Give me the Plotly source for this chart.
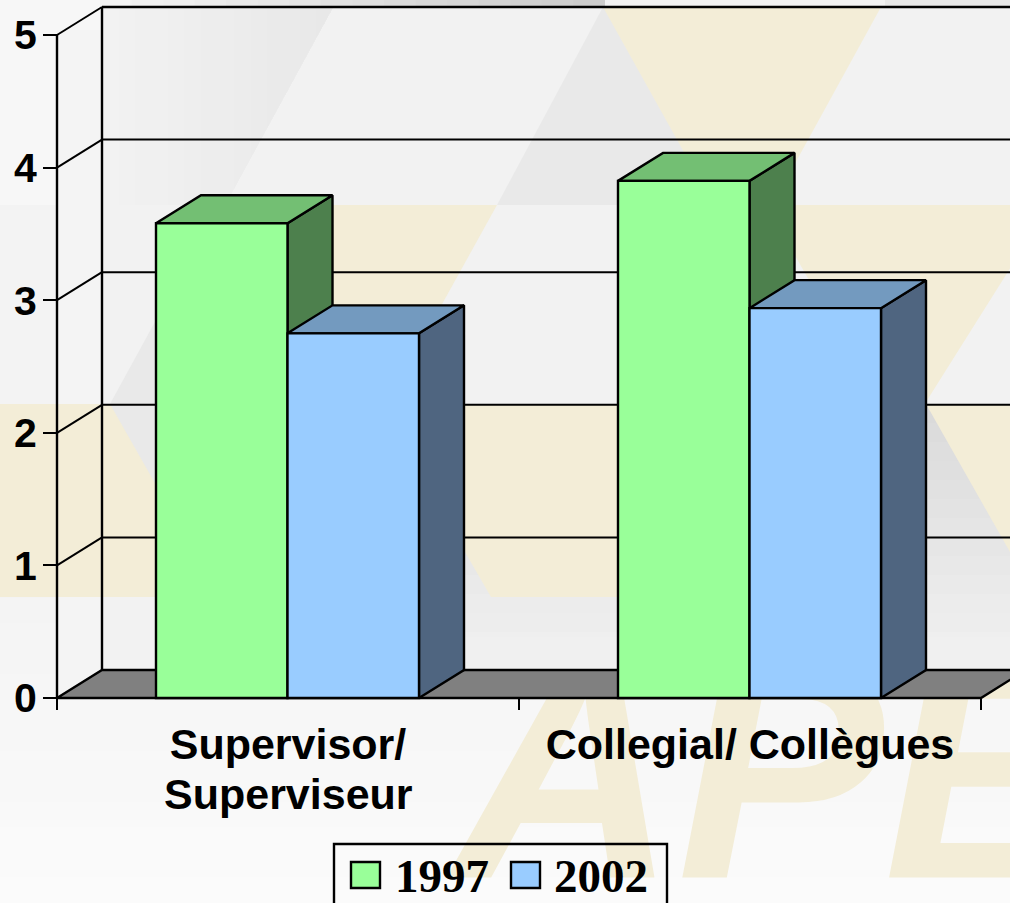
import plotly.graph_objects as go

# ---- data ----
categories = ["Supervisor/<br>Superviseur", "Collegial/ Collègues"]
series_names = ["1997", "2002"]
values_1997 = [3.58, 3.90]
values_2002 = [2.75, 2.94]
y_ticks = [0, 1, 2, 3, 4, 5]

# ---- style ----
FRONT = ["#99ff99", "#99ccff"]
SIDE = ["#4d804d", "#4f6580"]
TOP = ["#73bf73", "#739abf"]
BEIGE = "#f3edd7"
W, H = 1010, 903
X0, Y0 = 57, 698          # pixel position of the origin
XU, YU = 462, 132.6       # pixels per category / per value unit
DX, DY = 45 / XU, 28 / YU # depth of the 3-D projection in data units
BAR_W = 131.5 / XU
BAR_NUDGE = -0.5 / XU
x_range = [-X0 / XU, (W - X0) / XU]
y_range = [-(H - Y0) / YU, Y0 / YU]


def path(pts):
    s = "M " + " L ".join(f"{x / W:.5f} {1 - y / H:.5f}" for x, y in pts) + " Z"
    return s


shapes = []


def poly(pts, color):
    shapes.append(dict(type="path", xref="paper", yref="paper", layer="below",
                       path=path(pts), fillcolor=color, line=dict(width=0)))


def rect(x0, y0, x1, y1, color):
    poly([(x0, y0), (x1, y0), (x1, y1), (x0, y1)], color)


def mix(a, b, t):
    v = round(a + (b - a) * t)
    return f"rgb({v},{v},{v})"


# page background bands
rect(0, 0, W, 205, "#f7f7f7")
rect(0, 205, W, 404, "#f3f3f3")
rect(0, 404, W, 598, "#f3f3f3")
for i in range(12):
    y0 = 598 + i * (H - 598) / 12
    rect(0, y0, W, H, mix(0xf4, 0xfb, i / 11))
# strip above the wall
for i in range(16):
    x0 = 100 + i * (605 - 100) / 16
    rect(x0, 0, 605, 8, mix(0xf4, 0xcc, i / 15))
rect(605, 0, 885, 8, "#f2f2f2")
rect(885, 0, W, 8, "#e8e8e8")
# wall
rect(57, 30, 102, 698, "#f4f4f4")
rect(102, 7, W, 670, "#f2f2f2")
# grey shading, upper left
for i in range(14):
    xl = 102 + i * (333 - 102) / 14
    c = mix(0xf2, 0xe8, i / 13)
    yb = min(205, 7 + (333 - xl) / 0.545)
    pts = [(xl, 7), (333, 7)]
    if yb < 205:
        pts.append((xl, yb))
    else:
        pts += [(225, 205), (xl, 205)]
    poly(pts, c)
# grey shading, top middle
poly([(603, 7), (497, 205), (745, 205), (745, 7)], "#e9e9e9")
# grey shading, lower right
for i in range(14):
    y0 = 404 + i * (670 - 404) / 14
    rect(463, y0, W, 670, mix(0xda, 0xf1, i / 13))
# beige pieces
poly([(603, 7), (881, 7), (743, 258)], BEIGE)
poly([(766, 205), (W + 40, 205), (926, 402), (926, 404), (880, 404)], BEIGE)
poly([(333, 205), (497, 205), (400, 380), (333, 380)], BEIGE)
rect(0, 404, 156, 597, BEIGE)
poly([(465, 404), (618, 404), (618, 597), (491, 597), (465, 552)], BEIGE)
poly([(926, 404), (W, 404), (W, 552)], BEIGE)
# grey triangle on the left
poly([(110, 404), (156, 320), (170, 320), (170, 490), (156, 485)], "#e9e9e9")

traces = []

# watermark (behind everything)
traces.append(go.Scatter(
    x=[(453 - X0) / XU], y=[(Y0 - 800) / YU], xaxis="x2", yaxis="y2",
    mode="text", text=["APE"], textposition="middle right", cliponaxis=False,
    textfont=dict(family="Liberation Sans", size=310, color=BEIGE, weight="bold", style="italic"),
    hoverinfo="skip", showlegend=False))
# the watermark stops at the floor: wall colour over its tops
traces.append(go.Scatter(
    x=[(463 - X0) / XU, x_range[1], x_range[1], (463 - X0) / XU],
    y=[DY, DY, DY + 0.25, DY + 0.25], xaxis="x2", yaxis="y2", mode="lines",
    fill="toself", fillcolor="#f0f0f0", line=dict(width=0),
    hoverinfo="skip", showlegend=False))


def back_poly(xs, ys, fill, lw=2.4):
    traces.append(go.Scatter(
        x=xs + xs[:1], y=ys + ys[:1], xaxis="x2", yaxis="y2", mode="lines",
        fill="toself", fillcolor=fill, line=dict(color="black", width=lw),
        hoverinfo="skip", showlegend=False, cliponaxis=False))


def back_line(xs, ys, lw=2):
    traces.append(go.Scatter(
        x=xs, y=ys, xaxis="x2", yaxis="y2", mode="lines",
        line=dict(color="black", width=lw),
        hoverinfo="skip", showlegend=False, cliponaxis=False))


n = len(categories)
# floor
back_poly([0, n, n + DX, DX], [0, 0, DY, DY], "#808080")
# wall lines
back_line([DX, DX], [DY, y_ticks[-1] + DY], 2.4)
back_line([0, 0], [0, y_ticks[-1]], 2.4)
for t in y_ticks[1:]:
    back_line([0, DX], [t, t + DY], 2)
    back_line([DX, x_range[1] + 0.1], [t + DY, t + DY], 2.4 if t == y_ticks[-1] else 2)

# bar side and top faces
centers = [0.5 + i for i in range(n)]
bar_centers = [c + BAR_NUDGE for c in centers]
for s, vals in enumerate([values_1997, values_2002]):
    for c, v in zip(bar_centers, vals):
        xl = c + (s - 1) * BAR_W
        xr = xl + BAR_W
        back_poly([xr, xr + DX, xr + DX, xr], [0, DY, v + DY, v], SIDE[s])
        back_poly([xl, xr, xr + DX, xl + DX], [v, v, v + DY, v + DY], TOP[s])

# bar fronts
for s, (name, vals) in enumerate(zip(series_names, [values_1997, values_2002])):
    traces.append(go.Bar(
        x=bar_centers, y=vals, name=name, width=BAR_W,
        offset=(s - 1) * BAR_W,
        marker=dict(color=FRONT[s], line=dict(color="black", width=2.4)),
        showlegend=False))

fig = go.Figure(traces)

# legend drawn to size
annots = []
shapes.append(dict(type="rect", xref="paper", yref="paper", x0=334 / W, x1=667 / W,
                   y0=-0.01, y1=1 - 844 / H, line=dict(color="black", width=2.4)))
for s, (name, lx, tx) in enumerate(zip(series_names, [351, 511], [392.5, 552])):
    shapes.append(dict(type="rect", xref="paper", yref="paper", x0=lx / W, x1=(lx + 29) / W,
                       y0=1 - 888 / H, y1=1 - 862 / H, fillcolor=FRONT[s],
                       line=dict(color="black", width=2.4)))
    annots.append(dict(xref="paper", yref="paper", x=tx / W, y=1 - 876 / H,
                       xanchor="left", yanchor="middle", showarrow=False, text=f"<b>{name}</b>",
                       font=dict(family="Liberation Serif", size=47, color="black")))

# the line gap of the category labels is tighter than a <br> gives
first_lines = [c.split("<br>")[0] for c in categories]
LABEL_FONT = dict(family="Liberation Sans", size=43, color="black", weight="bold")
for c, label in zip(centers, categories):
    for line in label.split("<br>")[1:]:
        annots.append(dict(xref="x", yref="paper", x=c, y=1 - 794 / H, xanchor="center",
                           yanchor="middle", showarrow=False, text=line, font=LABEL_FONT))

fig.update_layout(
    width=W, height=H, autosize=False,
    margin=dict(l=0, r=0, t=0, b=0, pad=0),
    paper_bgcolor="#f7f7f7", plot_bgcolor="rgba(0,0,0,0)",
    barmode="overlay", showlegend=False,
    shapes=shapes, annotations=annots,
    xaxis2=dict(range=x_range, domain=[0, 1], visible=False, fixedrange=True),
    yaxis2=dict(range=y_range, domain=[0, 1], visible=False, fixedrange=True),
    xaxis=dict(range=x_range, domain=[0, 1], overlaying="x2", anchor="free",
               position=(H - Y0) / H, showgrid=False, zeroline=False, showline=False,
               tickmode="array", tickvals=centers, ticktext=first_lines, ticks="", ticklabelstandoff=17,
               tickfont=LABEL_FONT,
               minor=dict(tickmode="array", tickvals=list(range(n + 1)), ticks="outside",
                          ticklen=11, tickwidth=2, tickcolor="black", showgrid=False)),
    yaxis=dict(range=y_range, domain=[0, 1], overlaying="y2", anchor="free",
               position=X0 / W, showgrid=False, zeroline=False, showline=False,
               tickmode="array", tickvals=y_ticks, ticks="outside", ticklen=14, tickwidth=2,
               tickcolor="black", ticklabelstandoff=-2,
               tickfont=dict(family="Liberation Sans", size=41, color="black", weight="bold")),
)

fig.write_html("out.html", config={"displayModeBar": False},
               post_script="document.body.style.margin='0';document.body.style.overflow='hidden';")
